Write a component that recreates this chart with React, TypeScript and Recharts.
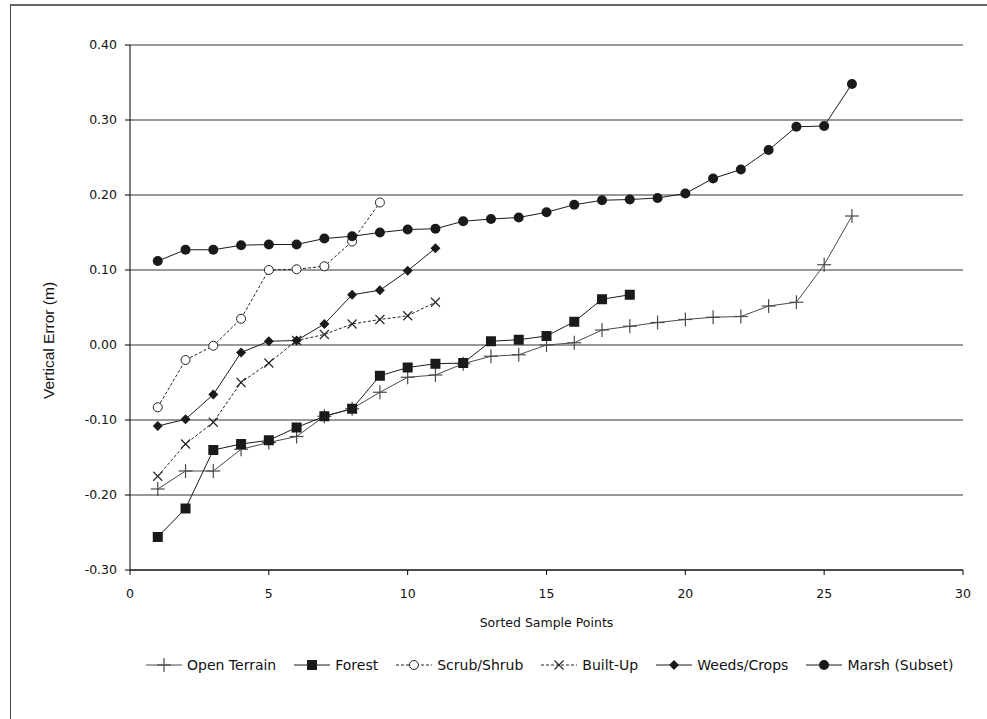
import { LineChart, Line, XAxis, YAxis, CartesianGrid, Label } from 'recharts';

const samplePoints = [1, 2, 3, 4, 5, 6, 7, 8, 9, 10, 11, 12, 13, 14, 15, 16, 17, 18, 19, 20, 21, 22, 23, 24, 25, 26];

const openTerrain = [
  -0.192, -0.168, -0.168, -0.139, -0.130, -0.122, -0.095, -0.085, -0.063, -0.043, -0.040, -0.025, -0.015,
  -0.013, 0.000, 0.003, 0.020, 0.025, 0.030, 0.034, 0.037, 0.038, 0.052, 0.057, 0.107, 0.172,
];
const forest = [
  -0.256, -0.218, -0.140, -0.132, -0.127, -0.110, -0.095, -0.085, -0.041, -0.030, -0.025, -0.024, 0.005,
  0.007, 0.012, 0.031, 0.061, 0.067,
];
const scrubShrub = [-0.083, -0.020, -0.001, 0.035, 0.100, 0.101, 0.105, 0.138, 0.190];
const builtUp = [-0.175, -0.132, -0.103, -0.050, -0.024, 0.006, 0.014, 0.028, 0.034, 0.039, 0.057];
const weedsCrops = [-0.108, -0.099, -0.066, -0.010, 0.005, 0.006, 0.028, 0.067, 0.073, 0.099, 0.129];
const marsh = [
  0.112, 0.127, 0.127, 0.133, 0.134, 0.134, 0.142, 0.145, 0.150, 0.154, 0.155, 0.165, 0.168, 0.170, 0.177,
  0.187, 0.193, 0.194, 0.196, 0.202, 0.222, 0.234, 0.260, 0.291, 0.292, 0.348,
];

const xTicks = [0, 5, 10, 15, 20, 25, 30];
const yTicks = [-0.3, -0.2, -0.1, 0, 0.1, 0.2, 0.3, 0.4];

const rows = samplePoints.map((x, i) => ({
  x,
  open: openTerrain[i],
  forest: forest[i],
  scrub: scrubShrub[i],
  built: builtUp[i],
  weeds: weedsCrops[i],
  marsh: marsh[i],
}));

type Shape = 'plus' | 'square' | 'ocircle' | 'cross' | 'diamond' | 'circle';

function Marker({ shape, cx, cy, color }: { shape: Shape; cx: number; cy: number; color: string }) {
  switch (shape) {
    case 'plus':
      return (
        <g stroke={color} strokeWidth={1.2}>
          <line x1={cx - 7} y1={cy} x2={cx + 7} y2={cy} />
          <line x1={cx} y1={cy - 7} x2={cx} y2={cy + 7} />
        </g>
      );
    case 'square':
      return <rect x={cx - 5} y={cy - 5} width={10} height={10} fill={color} />;
    case 'ocircle':
      return <circle cx={cx} cy={cy} r={4.5} fill="#fff" stroke={color} strokeWidth={1} />;
    case 'cross':
      return (
        <g stroke={color} strokeWidth={1.1}>
          <line x1={cx - 4.5} y1={cy - 4.5} x2={cx + 4.5} y2={cy + 4.5} />
          <line x1={cx - 4.5} y1={cy + 4.5} x2={cx + 4.5} y2={cy - 4.5} />
        </g>
      );
    case 'diamond':
      return <polygon points={`${cx},${cy - 5} ${cx + 5},${cy} ${cx},${cy + 5} ${cx - 5},${cy}`} fill={color} />;
    default:
      return <circle cx={cx} cy={cy} r={5} fill={color} />;
  }
}

const dotFor = (shape: Shape, color: string) => (props: any) => {
  const { cx, cy, key, value } = props;
  if (value == null || cx == null || cy == null) return <g key={key} />;
  return (
    <g key={key}>
      <Marker shape={shape} cx={cx} cy={cy} color={color} />
    </g>
  );
};

const series: { key: string; name: string; shape: Shape; color: string; dash?: string }[] = [
  { key: 'open', name: 'Open Terrain', shape: 'plus', color: '#4a4a4a' },
  { key: 'forest', name: 'Forest', shape: 'square', color: '#1a1a1a' },
  { key: 'scrub', name: 'Scrub/Shrub', shape: 'ocircle', color: '#222', dash: '3 2' },
  { key: 'built', name: 'Built-Up', shape: 'cross', color: '#222', dash: '3 2' },
  { key: 'weeds', name: 'Weeds/Crops', shape: 'diamond', color: '#1a1a1a' },
  { key: 'marsh', name: 'Marsh (Subset)', shape: 'circle', color: '#1a1a1a' },
];

const font = '"DejaVu Sans", Verdana, sans-serif';

// y title sits a little below the plot's middle in the original
const YTitle = (props: any) => {
  const vb = props.viewBox || { x: 0, y: 0, width: 0, height: 0 };
  const x = 48;
  const y = vb.y + vb.height / 2 + 33;
  return (
    <text
      x={x}
      y={y}
      transform={`rotate(-90, ${x}, ${y})`}
      textAnchor="middle"
      dominantBaseline="central"
      style={{ fontSize: 15.5, fontFamily: '"Liberation Sans", Arial, sans-serif', fill: '#111' }}
    >
      Vertical Error (m)
    </text>
  );
};

export default function App() {
  return (
    <div style={{ position: 'absolute', left: 0, top: 0, width: 987, height: 719, overflow: 'hidden', background: '#fff' }}>
      <div
        style={{
          position: 'absolute', left: 10, top: 4, width: 1200, height: 1200,
          borderLeft: '1px solid #444', borderTop: '2px solid #666',
        }}
      />
      <div style={{ position: 'absolute', left: 0, top: 0 }}>
        <LineChart width={987} height={719} data={rows} margin={{ top: 45, right: 24, bottom: 85, left: 0 }}>
          <CartesianGrid horizontal vertical={false} stroke="#333" strokeWidth={1} />
          <XAxis
            dataKey="x"
            type="number"
            domain={[0, 30]}
            ticks={xTicks}
            height={64}
            stroke="#000"
            tickSize={5}
            tickMargin={14}
            tick={{ fontSize: 12.5, fontFamily: font, fill: '#111' }}
          >
            <Label value="Sorted Sample Points" position="insideBottom" offset={7}
              style={{ fontSize: 12.5, fontFamily: font, fill: '#111' }} />
          </XAxis>
          <YAxis
            type="number"
            domain={[-0.3, 0.4]}
            ticks={yTicks}
            width={130}
            stroke="#000"
            tickSize={5}
            tickMargin={8}
            tickFormatter={(v: number) => v.toFixed(2)}
            tick={{ fontSize: 12.5, fontFamily: font, fill: '#111' }}
          >
            <Label content={YTitle} />
          </YAxis>
          {series.map(s => (
            <Line
              key={s.key}
              dataKey={s.key}
              name={s.name}
              type="linear"
              stroke={s.color}
              strokeWidth={1}
              strokeDasharray={s.dash}
              dot={dotFor(s.shape, s.color)}
              activeDot={false}
              isAnimationActive={false}
            />
          ))}
        </LineChart>
      </div>
      <div
        style={{
          position: 'absolute', left: 146, top: 657, display: 'flex', alignItems: 'center', gap: 18,
          fontFamily: font, fontSize: 14, color: '#111', whiteSpace: 'nowrap',
        }}
      >
        {series.map(s => (
          <div key={s.key} style={{ display: 'flex', alignItems: 'center', gap: 5 }}>
            <svg width={36} height={16}>
              <line x1={0} y1={8} x2={36} y2={8} stroke={s.color} strokeWidth={1} strokeDasharray={s.dash} />
              <Marker shape={s.shape} cx={18} cy={8} color={s.color} />
            </svg>
            <span>{s.name}</span>
          </div>
        ))}
      </div>
    </div>
  );
}
